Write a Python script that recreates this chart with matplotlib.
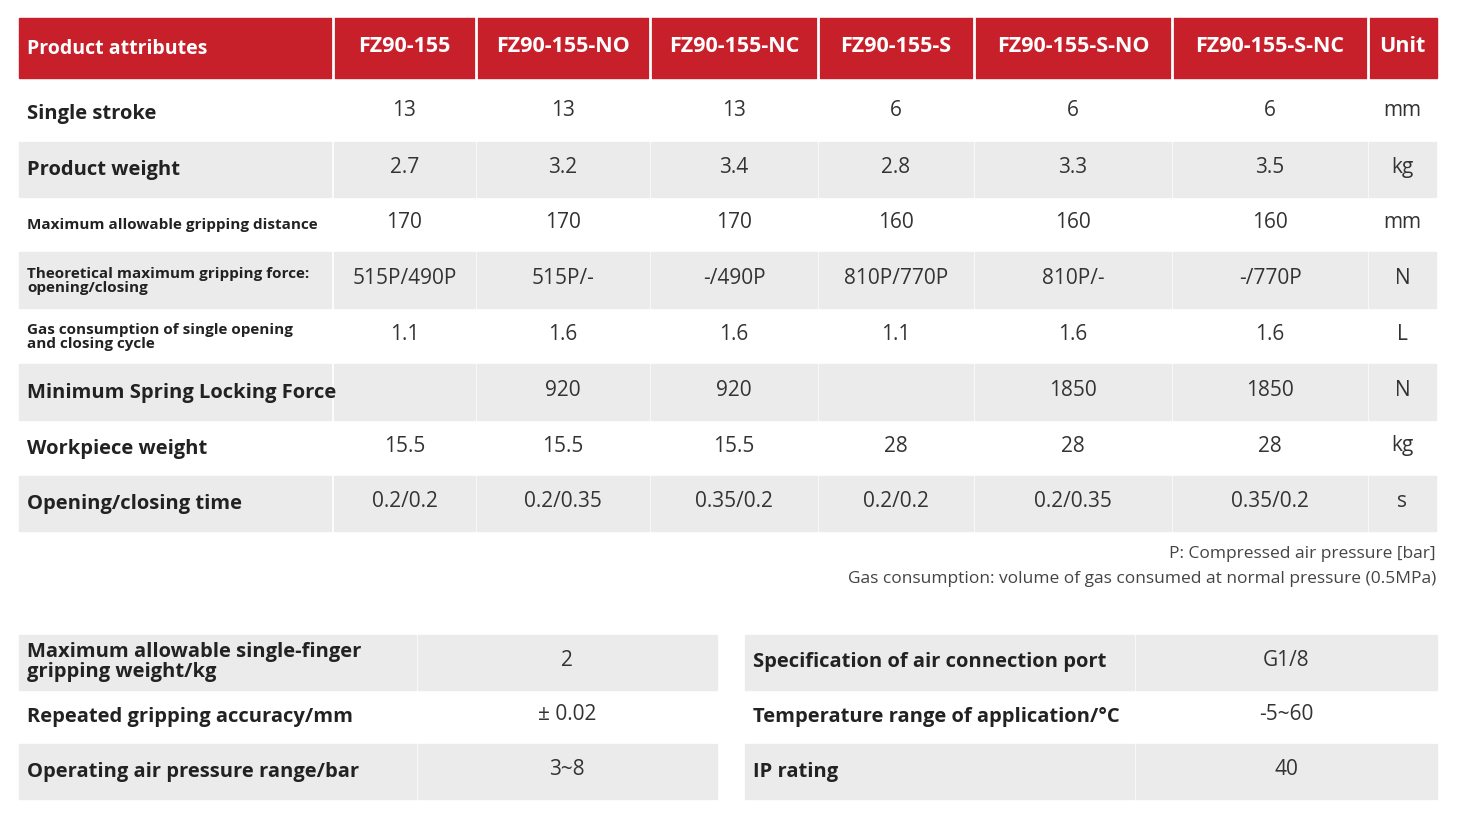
import matplotlib
matplotlib.use("Agg")
import matplotlib.pyplot as plt
from matplotlib.patches import Rectangle

headers = ["Product attributes", "FZ90-155", "FZ90-155-NO", "FZ90-155-NC", "FZ90-155-S", "FZ90-155-S-NO", "FZ90-155-S-NC", "Unit"]
row_labels = ["Single stroke", "Product weight", "Maximum allowable gripping distance",
              "Theoretical maximum gripping force:\nopening/closing",
              "Gas consumption of single opening\nand closing cycle",
              "Minimum Spring Locking Force", "Workpiece weight", "Opening/closing time"]
small_label = [False, False, True, True, True, False, False, False]
values = [
    ["13", "13", "13", "6", "6", "6", "mm"],
    ["2.7", "3.2", "3.4", "2.8", "3.3", "3.5", "kg"],
    ["170", "170", "170", "160", "160", "160", "mm"],
    ["515P/490P", "515P/-", "-/490P", "810P/770P", "810P/-", "-/770P", "N"],
    ["1.1", "1.6", "1.6", "1.1", "1.6", "1.6", "L"],
    ["", "920", "920", "", "1850", "1850", "N"],
    ["15.5", "15.5", "15.5", "28", "28", "28", "kg"],
    ["0.2/0.2", "0.2/0.35", "0.35/0.2", "0.2/0.2", "0.2/0.35", "0.35/0.2", "s"],
]
notes = ["P: Compressed air pressure [bar]",
         "Gas consumption: volume of gas consumed at normal pressure (0.5MPa)"]
left_labels = ["Maximum allowable single-finger\ngripping weight/kg", "Repeated gripping accuracy/mm", "Operating air pressure range/bar"]
left_values = ["2", "± 0.02", "3~8"]
right_labels = ["Specification of air connection port", "Temperature range of application/°C", "IP rating"]
right_values = ["G1/8", "-5~60", "40"]

RED = "#c8202b"; GRAY = "#ebebeb"; TXT = "#222222"
FONT = "Open Sans"

fig = plt.figure(figsize=(14.6, 8.16), dpi=100)
ax = fig.add_axes([0, 0, 1, 1])
ax.set_xlim(0, 1460); ax.set_ylim(816, 0); ax.axis("off")

cols = [19, 333, 476, 650, 818, 974, 1172, 1368, 1437]
# header
ax.add_patch(Rectangle((19, 18), 1418, 60, color=RED))
for i in range(1, len(cols) - 1):
    ax.plot([cols[i], cols[i]], [18, 78], color="white", lw=2)
for i, h in enumerate(headers):
    if i == 0:
        ax.text(27, 49, h, color="white", fontsize=14, fontweight="bold", va="center", ha="left", family=FONT)
    else:
        ax.text((cols[i] + cols[i + 1]) / 2, 47, h, color="white", fontsize=15.5, fontweight="bold",
                va="center", ha="center", family=FONT)

row_tops = [84, 142, 197, 252, 308, 364, 420, 476, 531]
for r, lab in enumerate(row_labels):
    y0, y1 = row_tops[r], row_tops[r + 1]
    if r % 2 == 1:
        for i in range(len(cols) - 1):
            ax.add_patch(Rectangle((cols[i] + (1 if i else 0), y0), cols[i + 1] - cols[i] - 2, y1 - y0, color=GRAY))
    yc = (y0 + y1) / 2 + 1
    if small_label[r]:
        ax.text(27, yc, lab, fontsize=11, fontweight="bold", va="center", ha="left", color=TXT,
                family=FONT, linespacing=1.05)
    else:
        ax.text(27, yc, lab, fontsize=14.5, fontweight="bold", va="center", ha="left", color=TXT, family=FONT)
    for c, v in enumerate(values[r]):
        ax.text((cols[c + 1] + cols[c + 2]) / 2, yc - 3, v, fontsize=15, va="center", ha="center",
                color="#333333", family=FONT)

ax.text(1436, 554, notes[0], fontsize=12.5, ha="right", va="center", color="#444444", family=FONT)
ax.text(1436, 579, notes[1], fontsize=12.5, ha="right", va="center", color="#444444", family=FONT)

b_rows = [635, 690, 744, 799]
for (x0, xm, x1, labs, vals) in [(19, 417, 717, left_labels, left_values),
                                 (745, 1135, 1437, right_labels, right_values)]:
    for r in range(3):
        y0, y1 = b_rows[r], b_rows[r + 1]
        if r % 2 == 0:
            ax.add_patch(Rectangle((x0, y0), xm - x0 - 1, y1 - y0, color=GRAY))
            ax.add_patch(Rectangle((xm + 1, y0), x1 - xm - 1, y1 - y0, color=GRAY))
        yc = (y0 + y1) / 2
        ax.text(x0 + 8, yc, labs[r], fontsize=14.5, fontweight="bold", va="center", ha="left",
                color=TXT, family=FONT, linespacing=1.0)
        ax.text((xm + x1) / 2, yc - 2, vals[r], fontsize=15, va="center", ha="center", color="#333333", family=FONT)

fig.savefig("out.png", dpi=100)
